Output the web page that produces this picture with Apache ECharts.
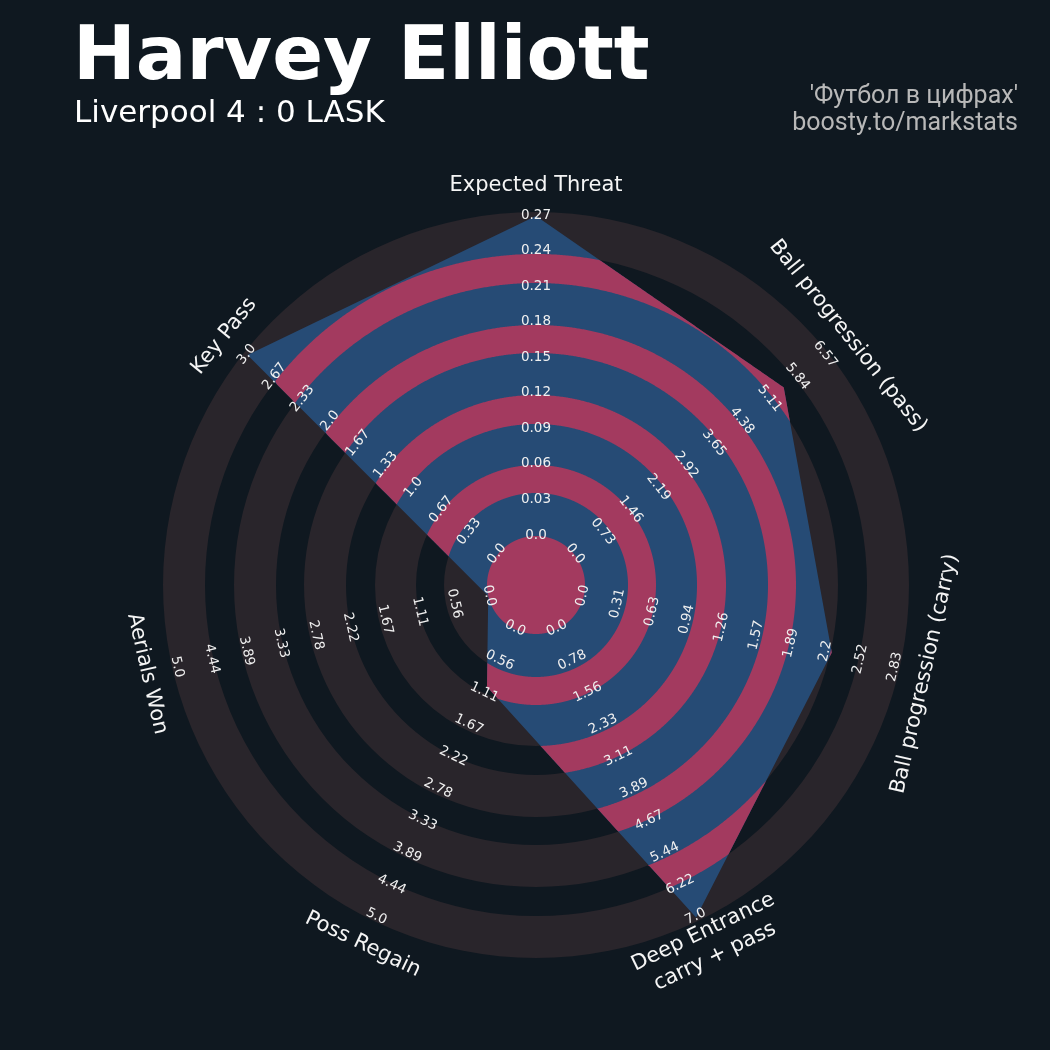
<!DOCTYPE html>
<html><head><meta charset="utf-8">
<script src="https://cdn.jsdelivr.net/npm/echarts@6/dist/echarts.min.js"></script>
<style>html,body{margin:0;padding:0;background:#0f1820;}#chart{width:1050px;height:1050px;}</style>
</head><body><div id="chart"></div>
<script>
// ---- data ----
const params = ['Expected Threat', 'Ball progression (pass)', 'Ball progression (carry)',
  'Deep Entrance\ncarry + pass', 'Poss Regain', 'Aerials Won', 'Key Pass'];
const values = [0.27, 5.5, 2.25, 7.0, 1.0, 0.0, 3.0];
const minRange = [0, 0, 0, 0, 0, 0, 0];
const maxRange = [0.27, 6.57, 2.83, 7.0, 5.0, 5.0, 3.0];
const tickLabels = [
  ['0.0','0.03','0.06','0.09','0.12','0.15','0.18','0.21','0.24','0.27'],
  ['0.0','0.73','1.46','2.19','2.92','3.65','4.38','5.11','5.84','6.57'],
  ['0.0','0.31','0.63','0.94','1.26','1.57','1.89','2.2','2.52','2.83'],
  ['0.0','0.78','1.56','2.33','3.11','3.89','4.67','5.44','6.22','7.0'],
  ['0.0','0.56','1.11','1.67','2.22','2.78','3.33','3.89','4.44','5.0'],
  ['0.0','0.56','1.11','1.67','2.22','2.78','3.33','3.89','4.44','5.0'],
  ['0.0','0.33','0.67','1.0','1.33','1.67','2.0','2.33','2.67','3.0']
];
const titleText = 'Harvey Elliott';
const subtitleText = 'Liverpool 4 : 0 LASK';
const creditLines = ["'Футбол в цифрах'", 'boosty.to/markstats'];

// ---- layout (radius units on the polar radius axis) ----
const INNER = 49, OUTER = 369, NAME_R = 399;
const darkBands = [[49, 92], [120, 161], [190, 232], [260, 302], [331, 373]];
const pinkBands = [[0, 49], [92, 120], [161, 190], [232, 260], [302, 331]];
const BG = '#0f1820', DARK = '#29252b', BLUE = '#264b75', PINK = '#a33a5f';

const n = params.length;
const angles = params.map((_, i) => ((90 - i * 360 / n) % 360 + 360) % 360);
const toR = (v, i) => INNER + (v - minRange[i]) / (maxRange[i] - minRange[i]) * (OUTER - INNER);
const vertR = values.map((v, i) => toR(v, i));
const verts = vertR.map((r, i) => [r * Math.cos(angles[i] * Math.PI / 180), r * Math.sin(angles[i] * Math.PI / 180)]);

function polyRadius(theta) {
  const t = theta * Math.PI / 180, dx = Math.cos(t), dy = Math.sin(t);
  let best = Infinity;
  for (let i = 0; i < n; i++) {
    const P = verts[i], Q = verts[(i + 1) % n];
    const ex = Q[0] - P[0], ey = Q[1] - P[1];
    const den = dx * ey - dy * ex;
    if (Math.abs(den) < 1e-12) continue;
    const tt = (P[0] * ey - P[1] * ex) / den;
    const s = (P[0] * dy - P[1] * dx) / den;
    if (s >= -1e-9 && s <= 1 + 1e-9 && tt > 0) best = Math.min(best, tt);
  }
  return best;
}
let thetas = [];
for (let a = 0; a <= 360; a += 0.25) thetas.push(a);
angles.forEach(a => thetas.push(a));
thetas = Array.from(new Set(thetas.map(a => +a.toFixed(6)))).sort((a, b) => a - b);

function rot(theta) {
  const s = Math.sin(theta * Math.PI / 180);
  return (s >= 0 ? theta - 90 : theta + 90);
}

const tickData = [];
tickLabels.forEach((arr, i) => arr.forEach((lab, k) => {
  tickData.push([INNER + k / (arr.length - 1) * (OUTER - INNER), angles[i], i, k]);
}));
const nameData = params.map((p, i) => [NAME_R, angles[i], i]);

const chart = echarts.init(document.getElementById('chart'), null, {renderer: 'canvas'});
chart.setOption({
  backgroundColor: BG,
  animation: false,
  polar: {center: [536, 585], radius: 373},
  radiusAxis: {type: 'value', min: 0, max: 373, show: false},
  angleAxis: {type: 'value', min: 0, max: 360, startAngle: 0, clockwise: false, show: false},
  graphic: [
    {type: 'text', x: 73, y: 60, style: {text: titleText, fill: '#ffffff', font: 'bold 75px "DejaVu Sans"', textAlign: 'left', textVerticalAlign: 'middle', align: 'left', verticalAlign: 'middle'}},
    {type: 'text', x: 74, y: 114, style: {text: subtitleText, fill: '#ffffff', font: '31px "DejaVu Sans"', textAlign: 'left', textVerticalAlign: 'middle', align: 'left', verticalAlign: 'middle'}},
    {type: 'text', x: 1018, y: 97, style: {text: creditLines[0], fill: '#b8b8b8', font: '25px Roboto', textAlign: 'right', textVerticalAlign: 'middle', align: 'right', verticalAlign: 'middle'}},
    {type: 'text', x: 1018, y: 124, style: {text: creditLines[1], fill: '#b8b8b8', font: '25px Roboto', textAlign: 'right', textVerticalAlign: 'middle', align: 'right', verticalAlign: 'middle'}}
  ],
  series: [
    {
      type: 'custom', coordinateSystem: 'polar', silent: true, z: 1,
      data: darkBands,
      renderItem: function (p, api) {
        const c = api.coord([0, 0]);
        const o = api.coord([api.value(1), 0]);
        const ii = api.coord([api.value(0), 0]);
        return {type: 'ring', shape: {cx: c[0], cy: c[1], r: o[0] - c[0], r0: ii[0] - c[0]}, style: {fill: DARK}};
      }
    },
    {
      type: 'custom', coordinateSystem: 'polar', silent: true, z: 2,
      data: vertR.map((r, i) => [r, angles[i]]),
      renderItem: function (p, api) {
        if (p.dataIndex !== 0) return null;
        const pts = vertR.map((r, i) => api.coord([r, angles[i]]));
        return {type: 'polygon', shape: {points: pts}, style: {fill: BLUE}};
      }
    },
    {
      type: 'custom', coordinateSystem: 'polar', silent: true, z: 3,
      data: pinkBands,
      renderItem: function (p, api) {
        const a = api.value(0), b = api.value(1);
        const outer = thetas.map(t => {
          const R = Math.min(b, Math.max(a, polyRadius(t)));
          return api.coord([R, t % 360]);
        });
        const inner = thetas.slice().reverse().map(t => api.coord([a, t % 360]));
        return {type: 'polygon', shape: {points: outer.concat(inner)}, style: {fill: PINK}};
      }
    },
    {
      type: 'custom', coordinateSystem: 'polar', silent: true, z: 5,
      data: tickData,
      renderItem: function (p, api) {
        const th = api.value(1), i = api.value(2), k = api.value(3);
        const pt = api.coord([api.value(0), th]);
        const phi = rot(th) * Math.PI / 180;
        const off = 1.0;
        return {type: 'text', x: pt[0] - off * Math.sin(phi), y: pt[1] - off * Math.cos(phi), rotation: phi,
          style: {text: tickLabels[i][k], fill: '#f0f0f0', font: '13.5px "DejaVu Sans"',
            textAlign: 'center', textVerticalAlign: 'middle', align: 'center', verticalAlign: 'middle'}};
      }
    },
    {
      type: 'custom', coordinateSystem: 'polar', silent: true, z: 5,
      data: nameData,
      renderItem: function (p, api) {
        const th = api.value(1), i = api.value(2);
        const pt = api.coord([api.value(0), th]);
        const phi = rot(th) * Math.PI / 180;
        return {type: 'text', x: pt[0], y: pt[1], rotation: phi,
          style: {text: params[i], fill: '#f5f5f5', font: '21px "DejaVu Sans"', lineHeight: 27,
            textAlign: 'center', textVerticalAlign: 'middle', align: 'center', verticalAlign: 'middle'}};
      }
    }
  ]
});
</script></body></html>
